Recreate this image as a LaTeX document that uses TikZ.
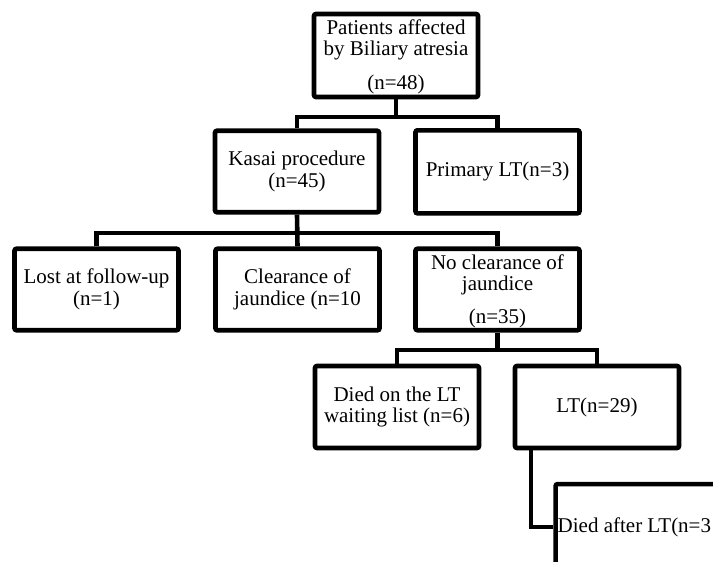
\documentclass[tikz,border=0pt]{standalone}
\usepackage{fontspec}
\setmainfont{Liberation Serif}
\begin{document}
\begin{tikzpicture}[x=1pt,y=-1pt,
  box/.style={draw=black,line width=4.6pt,rounded corners=2pt,fill=white,
    minimum width=164pt,minimum height=81.5pt,inner sep=0pt,align=center,
    font=\fontsize{21}{21.5}\selectfont},
  conn/.style={draw=black,line width=4.6pt},
  lbl/.style={inner sep=0pt,align=center,font=\fontsize{21}{21.5}\selectfont}]
\useasboundingbox (0,0) rectangle (713,562);
\fill[white] (0,0) rectangle (713,562);
\clip (0,0) rectangle (713,562);
% nodes
\node[box,minimum height=83pt] (top) at (396,55.5) {};
\node[lbl] (toptxt) at (396,56.5) {Patients affected\\by Biliary atresia\\[12pt](n=48)};
\node[box] (kasai) at (297,171.5) {Kasai procedure\\(n=45)};
\node[box,minimum height=83pt] (prim) at (497.5,171.8) {Primary LT(n=3)};
\node[box] (lost) at (96.5,289.5) {Lost at follow-up\\(n=1)};
\node[box] (clear) at (297.5,289.5) {Clearance of\\jaundice (n=10};
\node[box] (noclear) at (497.5,289.5) {};
\node[lbl] (noclrtxt) at (497.5,291) {No clearance of\\jaundice\\[11pt](n=35)};
\node[box,minimum height=82pt] (died) at (397,407) {Died on the LT\\waiting list (n=6)};
\node[box,minimum height=82pt] (lt) at (597,407) {LT(n=29)};
\node[box,anchor=north west,minimum width=260pt,minimum height=140pt] (dalt) at (553.3,481.8) {};
\node[lbl,anchor=west] (daltxt) at (557.5,527) {Died after LT(n=3};
% connectors
\path (top.south) ++(0,17.5) coordinate (j1);
\draw[conn] (top.south) -- (j1);
\draw[conn] (kasai.north) |- (j1) -| (prim.north);
\path (kasai.south) ++(0,18.5) coordinate (j2);
\draw[conn] (kasai.south) -- (clear.north);
\draw[conn] (lost.north) |- (j2) -| (noclear.north);
\path (noclear.south) ++(0,17.5) coordinate (j3);
\draw[conn] (noclear.south) -- (j3);
\draw[conn] (died.north) |- (j3) -| (lt.north);
\coordinate (ltb) at ([xshift=-66pt]lt.south);
\draw[conn] (ltb) |- (dalt.west |- daltxt.west);
\end{tikzpicture}
\end{document}
